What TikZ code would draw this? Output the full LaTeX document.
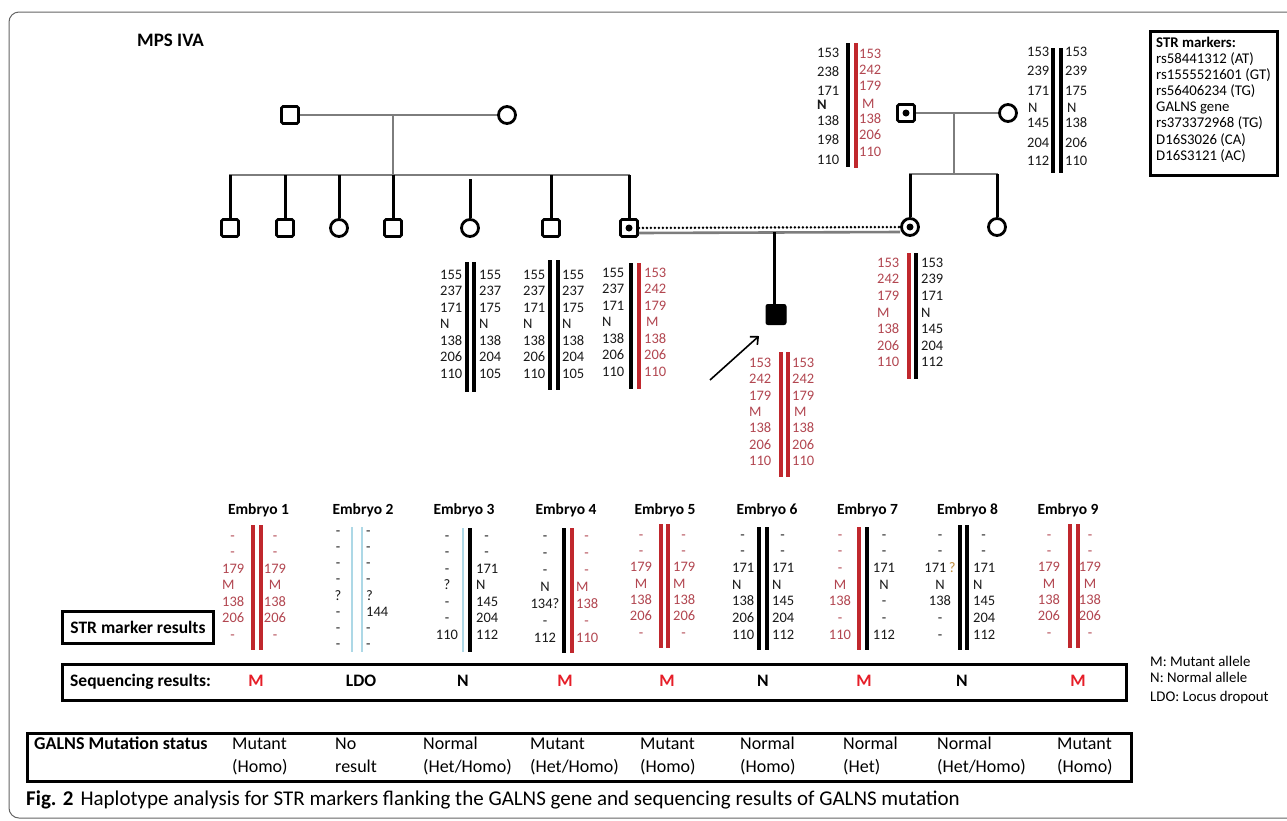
\documentclass[tikz,border=0pt]{standalone}
\usepackage{fontspec}
\setmainfont{Carlito}
\usetikzlibrary{arrows.meta}
\definecolor{barred}{RGB}{192,39,45}
\definecolor{txtred}{RGB}{178,70,80}
\definecolor{seqred}{RGB}{230,30,40}
\definecolor{lblue}{RGB}{173,216,230}
\definecolor{pgray}{RGB}{125,125,125}
\definecolor{qorange}{RGB}{190,140,60}
\definecolor{framegray}{RGB}{100,100,100}
\newcommand\dd{\makebox[21pt]{-}}
\newcommand\hcol[7]{\foreach \v [count=\k] in {#7}{\node[#2,anchor=#3] (#1-\k) at ({#4},{#5+(\k-1)*#6}) {\v};}}
\newcommand\hcolxy[5]{\foreach \yy/\v [count=\k] in {#5}{\node[#2,anchor=#3] (#1-\k) at ({#4},{\yy}) {\v};}}
\tikzset{
 hp/.style={font=\fontsize{14.5}{16}\selectfont, inner sep=0pt, text=black!90},
 hpr/.style={hp, text=txtred},
 kbar/.style={line width=3.2pt, black},
 rbar/.style={line width=3.2pt, barred},
 lbar/.style={line width=1.6pt, lblue},
 gline/.style={line width=2.6pt, pgray},
 bline/.style={line width=3pt, black},
 male/.style={draw, line width=2.8pt, rectangle, minimum size=17pt, inner sep=0pt, rounded corners=1.5pt},
 female/.style={draw, line width=2.8pt, circle, minimum size=17pt, inner sep=0pt},
 dotline/.style={line width=2.8pt, line cap=round, dash pattern=on 0pt off 4pt},
 tbox/.style={draw, line width=3pt, inner sep=0pt},
 lab/.style={font=\bfseries\fontsize{15.5}{18}\selectfont, inner sep=0pt},
 leg/.style={font=\fontsize{14.8}{16}\selectfont, inner sep=0pt, anchor=mid west},
 seq/.style={font=\bfseries\fontsize{17.5}{20}\selectfont, inner sep=0pt},
 stat/.style={font=\fontsize{18}{20}\selectfont, inner sep=0pt, anchor=mid west},
}
\begin{document}
\begin{tikzpicture}[x=1pt,y=-1pt]
\useasboundingbox (0,0) rectangle (1287,820);
\clip (0,0) rectangle (1287,820);
\fill[white] (0,0) rectangle (1287,820);
\draw[framegray, line width=1pt, rounded corners=10pt] (9,12) rectangle (1320,818);

% title
\node[font=\bfseries\fontsize{19}{22}\selectfont, inner sep=0pt, anchor=mid west] (title) at (137,44) {MPS IVA};

% ---------- left family ----------
\node[male] (gf1) at (290,115) {};
\node[female] (gm1) at (507,115) {};
\draw[gline] (gf1) -- (gm1);
\coordinate (m1) at (393,115);
\coordinate (s1) at (393,175);
\draw[gline] (m1) -- (s1);
\coordinate (sL) at (229,175);
\coordinate (sR) at (630,175);
\draw[gline] (sL) -- (sR);
\node[male] (c1) at (230,228) {};
\node[male] (c2) at (285,228) {};
\node[female] (c3) at (339,228) {};
\node[male] (c4) at (393,228) {};
\node[female] (c5) at (470,228) {};
\node[male] (c6) at (551,228) {};
\node[male] (c7) at (629,228) {};
\fill (c7) circle (3.5pt);
\foreach \c in {c1,c2,c3,c4,c6,c7}{\draw[bline] (\c.north) -- (\c.north |- sL);}
\draw[bline] (c5.north) -- ([yshift=-4pt]c5.north |- sL);

% ---------- right family ----------
\node[male] (gf2) at (906,113) {};
\fill (gf2) circle (3.5pt);
\node[female] (gm2) at (1008,113) {};
\draw[gline] (gf2) -- (gm2);
\coordinate (m2) at (954,113);
\coordinate (s2) at (954,174);
\draw[gline] (m2) -- (s2);
\coordinate (s2L) at (909,174);
\coordinate (s2R) at (998,174);
\draw[gline] (s2L) -- (s2R);
\node[female] (mo) at (910,227) {};
\fill (mo) circle (3.5pt);
\node[female] (sis) at (997,227) {};
\draw[bline] (mo.north) -- (mo.north |- s2L);
\draw[bline] (sis.north) -- (sis.north |- s2L);

% couple
\draw[dotline] (c7) -- (mo);
\draw[gline] ([yshift=-5pt]c7.east) -- ([yshift=-5pt]mo.west);
\coordinate (pd) at (774,232);
\node[draw, fill, line width=1pt, minimum size=20pt, inner sep=0pt, rounded corners=2pt] (pro) at (776,314.5) {};
\draw[bline] (pd) -- (pd |- pro.north);
\coordinate (arS) at (710,380);
\coordinate (arE) at (759,336);
\draw[line width=1.6pt, -{Straight Barb[length=6pt,width=11pt]}] (arS) -- (arE);

% ---------- haplotypes, pedigree ----------
\hcolxy{gfl}{hp}{mid west}{817}{55/153,74/238,93/171,107/\textbf{N},123/138,142/198,162/110}
\draw[kbar] (848,43) -- (848,167);
\draw[rbar] (856,43) -- (856,168);
\hcolxy{gfr}{hpr}{mid west}{859}{56/153,72/242,88/179,106/\hspace{3pt}M,121/138,137/206,154/110}
\hcolxy{gml}{hp}{mid west}{1027}{54/153,73/239,93/171,110/\hspace{1pt}N,125/145,145/204,163/112}
\draw[kbar] (1053,48) -- (1053,173);
\draw[kbar] (1061,48) -- (1061,173);
\hcolxy{gmr}{hp}{mid west}{1065}{54/153,73/239,93/175,110/\hspace{2pt}N,125/138,145/206,163/110}
\hcol{ha1}{hp}{mid west}{440}{277}{16.5}{155,237,171,N,138,206,110}
\draw[kbar] (467,262) -- (467,392);
\draw[kbar] (474,262) -- (474,392);
\hcol{ha2}{hp}{mid west}{479}{277}{16.5}{155,237,175,N,138,204,105}
\hcol{hb1}{hp}{mid west}{523}{277}{16.5}{155,237,171,N,138,206,110}
\draw[kbar] (550,260) -- (550,390);
\draw[kbar] (558,260) -- (558,390);
\hcol{hb2}{hp}{mid west}{562}{277}{16.5}{155,237,175,N,138,204,105}
\hcol{hc1}{hp}{mid west}{602}{275}{16.5}{155,237,171,N,138,206,110}
\draw[kbar] (631,263) -- (631,389);
\draw[rbar] (639,263) -- (639,389);
\hcol{hc2}{hpr}{mid west}{644}{275}{16.5}{153,242,179,\hspace{2pt}M,138,206,110}
\hcol{hm1}{hpr}{mid west}{877}{265}{16.6}{153,242,179,M,138,206,110}
\draw[rbar] (909,253) -- (909,379);
\draw[kbar] (916,253) -- (916,379);
\hcol{hm2}{hp}{mid west}{921}{265}{16.6}{153,239,171,N,145,204,112}
\hcol{hp1}{hpr}{mid west}{749}{365}{16.4}{153,242,179,M,138,206,110}
\draw[rbar] (781,352) -- (781,477);
\draw[rbar] (788,352) -- (788,477);
\hcol{hp2}{hpr}{mid west}{792}{365}{16.4}{153,242,179,\hspace{2pt}M,138,206,110}

% STR legend
\node[tbox, minimum width=127pt, minimum height=144pt] (legbox) at (1214,103.5) {};
\node[leg, font=\bfseries\fontsize{14.8}{16}\selectfont] (lg0) at (1156,45) {STR markers:};
\node[leg] (lg1) at (1156,61) {rs58441312 (AT)};
\node[leg] (lg2) at (1156,77) {rs1555521601 (GT)};
\node[leg] (lg3) at (1156,93) {rs56406234 (TG)};
\node[leg] (lg4) at (1156,109) {GALNS gene};
\node[leg] (lg5) at (1156,125) {rs373372968 (TG)};
\node[leg] (lg6) at (1156,142) {D16S3026 (CA)};
\node[leg] (lg7) at (1156,158) {D16S3121 (AC)};

% ---------- embryos ----------
\foreach \n/\x in {1/258.5,2/363,3/464,4/566,5/665,6/767,7/867.5,8/967.5,9/1068}{
  \node[lab] (emb\n) at (\x,510) {Embryo \n};}
\hcol{e1l}{hpr}{mid west}{222}{538}{16.5}{\dd,\dd,179,M,138,206,\dd}
\draw[rbar] (253,525) -- (253,650);
\draw[rbar] (261,525) -- (261,650);
\hcol{e1r}{hpr}{mid}{275}{538}{16.5}{-,-,179,M,138,206,-}
\hcol{e2l}{hp}{mid}{338}{533}{16.2}{-,-,-,-,?,-,-,-}
\draw[lbar] (352,527) -- (352,652);
\draw[lbar] (362,527) -- (362,652);
\hcol{e2r}{hp}{mid west}{366}{533}{16.2}{-,-,-,-,?,144,-,-}
\hcol{e3l}{hp}{mid}{447}{538}{16.5}{-,-,-,?,-,-,110}
\draw[lbar] (463,528) -- (463,652);
\draw[kbar] (470,528) -- (470,652);
\hcol{e3r}{hp}{mid west}{476}{538}{16.5}{\dd,\dd,171,N,145,204,112}
\hcol{e4l}{hp}{mid}{545}{538}{17}{-,-,-,N,134?,-,112}
\draw[kbar] (564,528) -- (564,653);
\draw[rbar] (572,528) -- (572,653);
\hcol{e4r}{hpr}{mid west}{576}{538}{17}{\dd,\dd,\dd,M,138,\dd,110}
\hcol{e5l}{hpr}{mid}{641}{537}{16.3}{-,-,179,M,138,206,-}
\draw[rbar] (661,524) -- (661,648);
\draw[rbar] (668,524) -- (668,648);
\hcol{e5r}{hpr}{mid west}{673}{537}{16.3}{\dd,\dd,179,M,138,206,\dd}
\hcol{e6l}{hp}{mid west}{732}{537}{16.6}{\dd,\dd,171,N,138,206,110}
\draw[kbar] (759,527) -- (759,650);
\draw[kbar] (767,527) -- (767,650);
\hcol{e6r}{hp}{mid west}{772}{537}{16.6}{\dd,\dd,171,N,145,204,112}
\hcol{e7l}{hpr}{mid}{840}{537}{16.6}{-,-,-,M,138,-,110}
\draw[rbar] (859,527) -- (859,650);
\draw[kbar] (867,527) -- (867,650);
\hcol{e7r}{hp}{mid}{884}{537}{16.6}{-,-,171,N,-,-,112}
\hcol{e8l}{hp}{mid}{940}{537}{16.6}{-,-,{171\,\textcolor{qorange}{?}},N,138,-,-}
\draw[kbar] (960,525) -- (960,650);
\draw[kbar] (967,525) -- (967,650);
\hcol{e8r}{hp}{mid west}{973}{537}{16.6}{\dd,\dd,171,N,145,204,112}
\hcol{e9l}{hpr}{mid}{1049}{537}{16.3}{-,-,179,M,138,206,-}
\draw[rbar] (1070,524) -- (1070,648);
\draw[rbar] (1078,524) -- (1078,648);
\hcol{e9r}{hpr}{mid}{1090}{537}{16.3}{-,-,179,M,138,206,-}

% STR marker results box
\node[tbox, minimum width=151pt, minimum height=32pt, font=\bfseries\fontsize{17.5}{20}\selectfont] (strbox) at (138,627.5) {STR marker results};

% sequencing
\node[tbox, minimum width=1064pt, minimum height=36pt] (seqbox) at (594.5,682.5) {};
\node[seq, anchor=mid west] (seqlab) at (70,684) {Sequencing results:};
\foreach \n/\x/\r/\c in {1/256/M/seqred,2/361/LDO/black,3/463/N/black,4/565/M/seqred,5/667/M/seqred,6/763/N/black,7/864/M/seqred,8/962/N/black,9/1078/M/seqred}{
  \node[seq, text=\c, anchor=mid] (sq\n) at (\x,684) {\r};}
\node[leg] (lm) at (1150,664) {M: Mutant allele};
\node[leg] (ln) at (1150,680) {N: Normal allele};
\node[leg] (ll) at (1150,699) {LDO: Locus dropout};

% mutation status
\node[tbox, minimum width=1104pt, minimum height=48pt] (mutbox) at (579.5,757.5) {};
\node[stat, font=\bfseries\fontsize{18}{20}\selectfont] (mutlab) at (34,747) {GALNS Mutation status};
\foreach \n/\x/\a/\b in {1/232/Mutant/{(Homo)},2/335/No/result,3/423/Normal/{(Het/Homo)},4/530/Mutant/{(Het/Homo)},5/640/Mutant/{(Homo)},6/740/Normal/{(Homo)},7/843/Normal/{(Het)},8/937/Normal/{(Het/Homo)},9/1057/Mutant/{(Homo)}}{
  \node[stat] (ma\n) at (\x,747) {\a};
  \node[stat] (mb\n) at (\x,770) {\b};}

% caption
\node[anchor=mid west, inner sep=0pt, font=\fontsize{21}{24}\selectfont] (cap) at (26,803) {\textbf{Fig. 2}\hspace{7pt}Haplotype analysis for STR markers flanking the GALNS gene and sequencing results of GALNS mutation};
\end{tikzpicture}
\end{document}
